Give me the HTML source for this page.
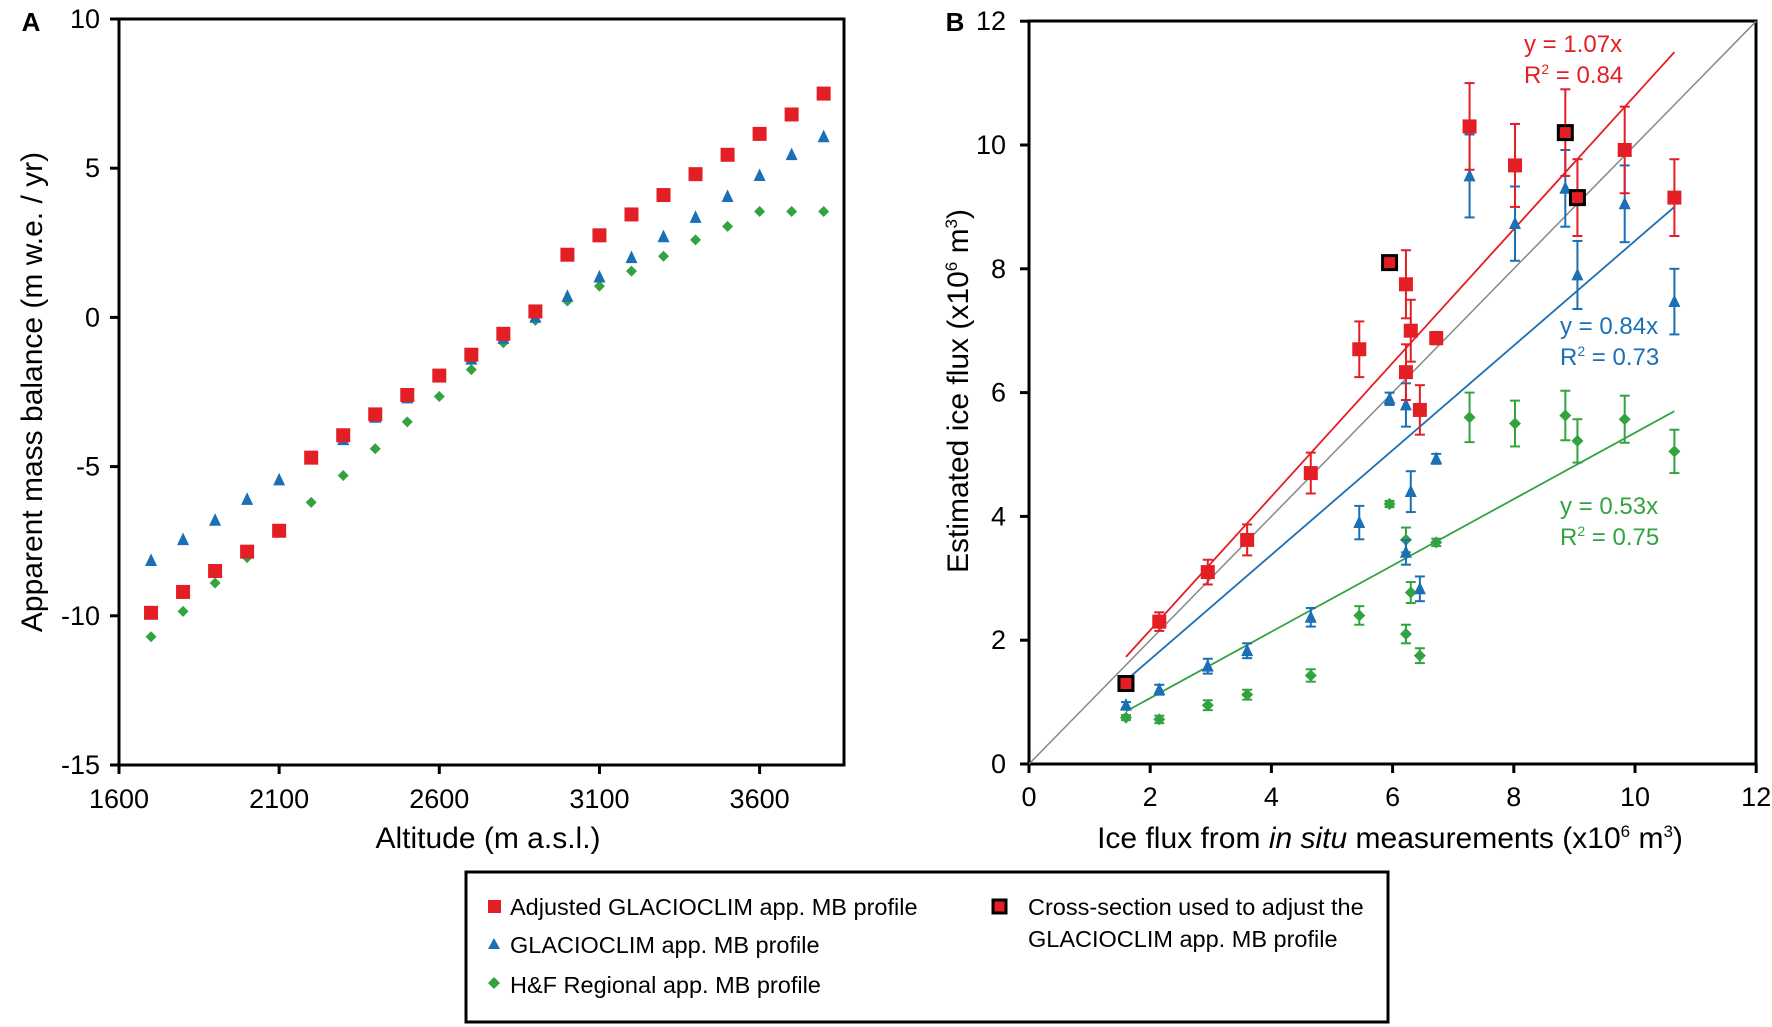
<!DOCTYPE html>
<html><head><meta charset="utf-8"><style>
html,body{margin:0;padding:0;background:#fff;}
svg{display:block;font-family:"Liberation Sans","DejaVu Sans",sans-serif;}
</style></head><body>
<svg id="s" width="1772" height="1027" viewBox="0 0 1772 1027" xmlns="http://www.w3.org/2000/svg">
<rect width="1772" height="1027" fill="#fff"/>
<g id="g"></g>
<!-- legend -->
<rect x="466" y="872" width="922" height="150" fill="none" stroke="#000" stroke-width="3"/>
<rect x="488" y="900" width="13" height="13" fill="#e31e24"/>
<text x="510" y="915" font-size="23.5">Adjusted GLACIOCLIM app. MB profile</text>
<polygon points="494,938 500,949 488,949" fill="#1a6fb5"/>
<text x="510" y="953" font-size="23.5">GLACIOCLIM app. MB profile</text>
<polygon points="494,977 500,983 494,989 488,983" fill="#33a340"/>
<text x="510" y="993" font-size="23.5">H&amp;F Regional app. MB profile</text>
<rect x="993" y="900" width="13" height="13" fill="#e31e24" stroke="#000" stroke-width="3"/>
<text x="1028" y="915" font-size="23.5">Cross-section used to adjust the</text>
<text x="1028" y="947" font-size="23.5">GLACIOCLIM app. MB profile</text>
</svg>
<script>
var g=document.getElementById('g'),h='';
var R='#e31e24',B='#1a6fb5',G='#33a340';
function sq(x,y,c,s,bk){return '<rect x="'+(x-s/2)+'" y="'+(y-s/2)+'" width="'+s+'" height="'+s+'" fill="'+c+'"'+(bk?' stroke="#000" stroke-width="3"':'')+'/>';}
function tri(x,y,c,s){return '<polygon points="'+x+','+(y-s*0.6)+' '+(x+s/2)+','+(y+s*0.45)+' '+(x-s/2)+','+(y+s*0.45)+'" fill="'+c+'"/>';}
function dia(x,y,c,s){return '<polygon points="'+x+','+(y-s/2)+' '+(x+s/2)+','+y+' '+x+','+(y+s/2)+' '+(x-s/2)+','+y+'" fill="'+c+'"/>';}
function t(x,y,s,fs,anc,extra){return '<text x="'+x+'" y="'+y+'" font-size="'+fs+'" text-anchor="'+(anc||'middle')+'" '+(extra||'')+'>'+s+'</text>';}
// Panel A
var ax=function(v){return 119+(v-1600)*0.3203;}, ay=function(v){return 19+(10-v)*29.84;};
h+='<rect x="119" y="19" width="725" height="746" fill="none" stroke="#000" stroke-width="3"/>';
[10,5,0,-5,-10,-15].forEach(function(v){h+='<line x1="110" x2="119" y1="'+ay(v)+'" y2="'+ay(v)+'" stroke="#000" stroke-width="3"/>'+t(100,ay(v)+9,v,27,'end');});
[1600,2100,2600,3100,3600].forEach(function(v){h+='<line x1="'+ax(v)+'" x2="'+ax(v)+'" y1="765" y2="774" stroke="#000" stroke-width="3"/>'+t(ax(v),808,v,27);});
h+=t(31,31,'A',26,'middle','font-weight="bold"');
h+=t(488,848,'Altitude (m a.s.l.)',30);
h+=t(42,392,'Apparent mass balance (m w.e. / yr)',30,'middle','transform="rotate(-90 42 392)"');
var rA=[-9.9,-9.2,-8.5,-7.85,-7.15,-4.7,-3.95,-3.25,-2.6,-1.95,-1.25,-0.55,0.2,2.1,2.75,3.45,4.1,4.8,5.45,6.15,6.8,7.5];
var bA=[-8.15,-7.45,-6.8,-6.1,-5.45,-4.75,-4.1,-3.35,-2.7,-2.0,-1.4,-0.7,0.0,0.7,1.35,2.0,2.7,3.35,4.05,4.75,5.45,6.05];
var gA=[-10.7,-9.85,-8.9,-8.05,-7.1,-6.2,-5.3,-4.4,-3.5,-2.65,-1.75,-0.85,-0.1,0.55,1.05,1.55,2.05,2.6,3.05,3.55,3.55,3.55];
for(var i=0;i<22;i++){var x=ax(1700+i*100);h+=dia(x,ay(gA[i]),G,11)+tri(x,ay(bA[i]),B,12)+sq(x,ay(rA[i]),R,14);}
// Panel B
var bx=function(v){return 1029+v*60.6;}, by=function(v){return 764-v*61.9;};
h+='<rect x="1029" y="21" width="727" height="743" fill="none" stroke="#000" stroke-width="3"/>';
[0,2,4,6,8,10,12].forEach(function(v){h+='<line x1="1020" x2="1029" y1="'+by(v)+'" y2="'+by(v)+'" stroke="#000" stroke-width="3"/>'+t(1006,by(v)+9,v,27,'end');
 h+='<line x1="'+bx(v)+'" x2="'+bx(v)+'" y1="764" y2="773" stroke="#000" stroke-width="3"/>'+t(bx(v),806,v,27);});
h+=t(955,31,'B',26,'middle','font-weight="bold"');
h+='<text x="1390" y="848" font-size="30" text-anchor="middle">Ice flux from <tspan font-style="italic">in situ</tspan> measurements (x10<tspan dy="-11" font-size="17">6</tspan><tspan dy="11"> m</tspan><tspan dy="-11" font-size="17">3</tspan><tspan dy="11">)</tspan></text>';
h+='<text x="968" y="391" font-size="30" text-anchor="middle" transform="rotate(-90 968 391)">Estimated ice flux (x10<tspan dy="-11" font-size="17">6</tspan><tspan dy="11"> m</tspan><tspan dy="-11" font-size="17">3</tspan><tspan dy="11">)</tspan></text>';
h+='<line x1="'+bx(0)+'" y1="'+by(0)+'" x2="'+bx(12)+'" y2="'+by(12)+'" stroke="#888" stroke-width="1.5"/>';
h+='<line x1="'+bx(1.6)+'" y1="'+by(1.73)+'" x2="'+bx(10.65)+'" y2="'+by(11.5)+'" stroke="'+R+'" stroke-width="1.8"/>';
h+='<line x1="'+bx(1.6)+'" y1="'+by(1.35)+'" x2="'+bx(10.65)+'" y2="'+by(9.0)+'" stroke="'+B+'" stroke-width="1.8"/>';
h+='<line x1="'+bx(1.6)+'" y1="'+by(0.85)+'" x2="'+bx(10.65)+'" y2="'+by(5.7)+'" stroke="'+G+'" stroke-width="1.8"/>';
var P=[[1.6,1.3,0.05,.95,.05,.75,.04,1],[2.15,2.3,.15,1.2,.08,.72,.06],[2.95,3.1,.2,1.58,.12,.95,.08],[3.6,3.62,.25,1.83,.12,1.12,.08],[4.65,4.7,.33,2.37,.15,1.43,.1],[5.45,6.7,.45,3.9,.27,2.4,.15],[5.95,8.1,.1,5.9,.1,4.2,.05,1],[6.22,7.75,.55,5.8,.35,3.62,.2],[6.22,6.33,.45,3.42,.2,2.1,.15],[6.3,7.0,.5,4.4,.33,2.77,.17],[6.45,5.72,.4,2.83,.2,1.75,.12],[6.72,6.88,.1,4.93,.08,3.58,.06],[7.27,10.3,.7,9.5,.67,5.6,.4],[8.02,9.67,.67,8.73,.6,5.5,.37],[8.85,10.2,.7,9.3,.62,5.63,.4,1],[9.05,9.15,.62,7.9,.55,5.22,.35,1],[9.83,9.92,.7,9.05,.62,5.57,.38],[10.65,9.15,.62,7.47,.53,5.05,.35]];
function eb(x,y,e,c){var X=bx(x);return '<g stroke="'+c+'" stroke-width="2"><line x1="'+X+'" x2="'+X+'" y1="'+by(y-e)+'" y2="'+by(y+e)+'"/><line x1="'+(X-5)+'" x2="'+(X+5)+'" y1="'+by(y-e)+'" y2="'+by(y-e)+'"/><line x1="'+(X-5)+'" x2="'+(X+5)+'" y1="'+by(y+e)+'" y2="'+by(y+e)+'"/></g>';}
P.forEach(function(p){h+=eb(p[0],p[5],p[6],G)+dia(bx(p[0]),by(p[5]),G,12);});
P.forEach(function(p){h+=eb(p[0],p[3],p[4],B)+tri(bx(p[0]),by(p[3]),B,12);});
P.forEach(function(p){h+=eb(p[0],p[1],p[2],R)+sq(bx(p[0]),by(p[1]),R,14,p[7]);});
h+=t(1524,52,'y = 1.07x',24,'start','fill="'+R+'"')+'<text x="1524" y="83" font-size="24" fill="'+R+'">R<tspan dy="-9" font-size="14">2</tspan><tspan dy="9"> = 0.84</tspan></text>';
h+=t(1560,334,'y = 0.84x',24,'start','fill="'+B+'"')+'<text x="1560" y="365" font-size="24" fill="'+B+'">R<tspan dy="-9" font-size="14">2</tspan><tspan dy="9"> = 0.73</tspan></text>';
h+=t(1560,514,'y = 0.53x',24,'start','fill="'+G+'"')+'<text x="1560" y="545" font-size="24" fill="'+G+'">R<tspan dy="-9" font-size="14">2</tspan><tspan dy="9"> = 0.75</tspan></text>';
g.innerHTML=h;
</script>
</body></html>
